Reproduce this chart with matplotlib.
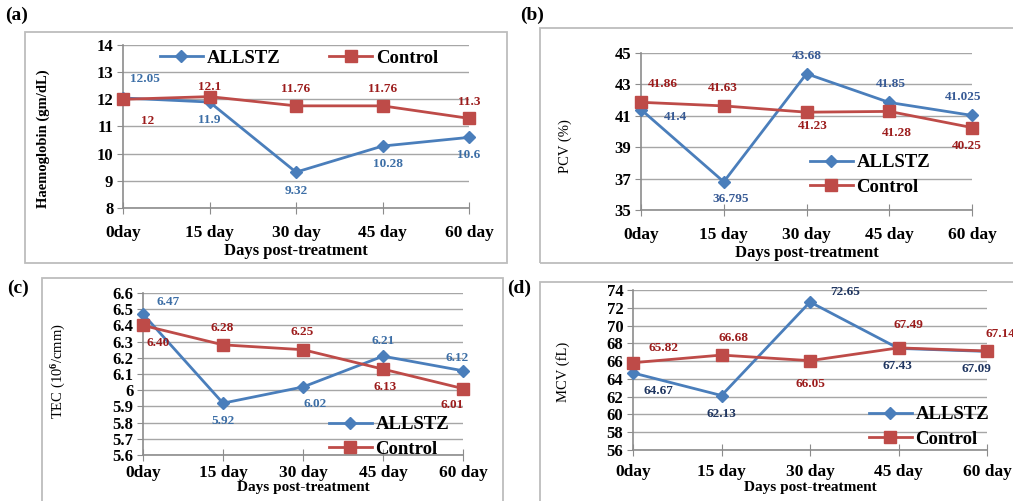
import matplotlib
matplotlib.use('Agg')
import matplotlib.pyplot as plt
from matplotlib.patches import Rectangle

# ---- data ----
days = ['0day', '15 day', '30 day', '45 day', '60 day']

hb_allstz = [12.05, 11.9, 9.32, 10.28, 10.6]
hb_control = [12, 12.1, 11.76, 11.76, 11.3]

pcv_allstz = [41.4, 36.795, 43.68, 41.85, 41.025]
pcv_control = [41.86, 41.63, 41.23, 41.28, 40.25]

tec_allstz = [6.47, 5.92, 6.02, 6.21, 6.12]
tec_control = [6.40, 6.28, 6.25, 6.13, 6.01]
tec_control_text = ['6.40', '6.28', '6.25', '6.13', '6.01']

mcv_allstz = [64.67, 62.13, 72.65, 67.43, 67.09]
mcv_control = [65.82, 66.68, 66.05, 67.49, 67.14]

hb_ticks = [8, 9, 10, 11, 12, 13, 14]
pcv_ticks = [35, 37, 39, 41, 43, 45]
tec_ticks = [5.6, 5.7, 5.8, 5.9, 6.0, 6.1, 6.2, 6.3, 6.4, 6.5, 6.6]
tec_tick_labels = ['5.6', '5.7', '5.8', '5.9', '6', '6.1', '6.2', '6.3', '6.4', '6.5', '6.6']
mcv_ticks = [56, 58, 60, 62, 64, 66, 68, 70, 72, 74]

# ---- style ----
W, H = 1013, 501
SERIF = ['Liberation Serif', 'DejaVu Serif']
plt.rcParams['font.family'] = SERIF
plt.rcParams['font.weight'] = 'bold'
plt.rcParams['mathtext.fontset'] = 'custom'
plt.rcParams['mathtext.rm'] = 'Liberation Serif'
plt.rcParams['mathtext.it'] = 'Liberation Serif:italic'

BLUE = '#4A7EBB'
RED = '#BE4B48'
CTRL_TXT = '#9C1C1C'
GRID = '#a6a6a6'


def px_rect(l, r, t, b):
    return [l / W, 1 - b / H, (r - l) / W, (b - t) / H]


def chart_box(fig, l, r, t, b):
    fig.add_artist(Rectangle((l / W, 1 - b / H), (r - l) / W, (b - t) / H,
                             transform=fig.transFigure, fill=False,
                             ec='#bdbdbd', lw=1.3))


def panel(fig, rect, allstz, control, ticks, tick_labels, ylim, ylabel,
          ylab_x, ylab_y, a_off, c_off, a_color, c_text=None,
          ylab_weight='normal', leg_xy=None, leg_ncol=1,
          tick_pad=8, xlab_pad=2, xlab_size=12):
    l, r, t, b = rect
    ax = fig.add_axes(px_rect(l, r, t, b))
    x = list(range(len(days)))
    ax.plot(x, allstz, color=BLUE, lw=2.0, marker='D', ms=6, label='ALLSTZ',
            clip_on=False, zorder=3)
    ax.plot(x, control, color=RED, lw=2.0, marker='s', ms=8, label='Control',
            clip_on=False, zorder=3)
    ax.set_xlim(0, len(days) - 1)
    ax.set_ylim(*ylim)
    ax.set_yticks(ticks)
    ax.set_yticklabels(tick_labels)
    ax.set_xticks(x)
    ax.set_xticklabels(days)
    ax.yaxis.grid(True, color=GRID, lw=1)
    ax.set_axisbelow(True)
    for s in ['top', 'right']:
        ax.spines[s].set_visible(False)
    for s in ['left', 'bottom']:
        ax.spines[s].set_color('#8c8c8c')
        ax.spines[s].set_linewidth(1.2)
    ax.tick_params(axis='y', labelsize=12, length=4, color='#8c8c8c', pad=3)
    ax.tick_params(axis='x', labelsize=12.5, direction='inout', length=8,
                   color='#8c8c8c', pad=tick_pad)
    ax.set_xlabel('Days post-treatment', fontsize=xlab_size, fontweight='bold',
                  labelpad=xlab_pad)
    ax.set_ylabel(ylabel, fontsize=10.5, fontweight=ylab_weight)
    ax.yaxis.set_label_coords((ylab_x - l) / (r - l), ylab_y, transform=ax.transAxes)

    a_txt = [f'{v:g}' for v in allstz]
    c_txt = c_text if c_text else [f'{v:g}' for v in control]
    for i in x:
        ax.annotate(a_txt[i], (i, allstz[i]), xytext=(a_off[i][0], -a_off[i][1]),
                    textcoords='offset pixels', ha='center', va='center',
                    fontsize=9.5, fontweight='heavy', color=a_color,
                    annotation_clip=False)
        ax.annotate(c_txt[i], (i, control[i]), xytext=(c_off[i][0], -c_off[i][1]),
                    textcoords='offset pixels', ha='center', va='center',
                    fontsize=9.5, fontweight='heavy', color=CTRL_TXT,
                    annotation_clip=False)

    leg = ax.legend(loc='center', bbox_to_anchor=(leg_xy[0] / W, 1 - leg_xy[1] / H),
                    bbox_transform=fig.transFigure, ncol=leg_ncol, frameon=False,
                    fontsize=13.5, handlelength=2.3, handletextpad=0.2,
                    columnspacing=2.6, labelspacing=0.4, borderpad=0)
    for txt in leg.get_texts():
        txt.set_fontfamily(SERIF)
        txt.set_fontweight('bold')
    return ax


fig = plt.figure(figsize=(W / 100, H / 100), dpi=100)

# chart frames
chart_box(fig, 25, 507, 32, 263)
chart_box(fig, 540, 1020, 28, 263)
chart_box(fig, 42, 503, 278, 520)
chart_box(fig, 540, 1020, 282, 520)

# (a) haemoglobin
panel(fig, (123, 469, 45, 208), hb_allstz, hb_control, hb_ticks,
      [str(v) for v in hb_ticks], (8, 14), 'Haemoglobin (gm/dL)', 50, 0.423,
      [(22, -19), (0, 18), (0, 19), (5, 18), (0, 18)],
      [(25, 22), (0, -10), (0, -17), (0, -17), (0, -16)],
      '#3C6EA6', ylab_weight='bold', leg_xy=(299, 58), leg_ncol=2)

# (b) PCV
panel(fig, (641, 972, 53, 210), pcv_allstz, pcv_control, pcv_ticks,
      [str(v) for v in pcv_ticks], (35, 45), 'PCV (%)', 572, 0.408,
      [(34, 7), (7, 17), (0, -18), (2, -18), (-9, -18)],
      [(22, -18), (-1, -18), (6, 14), (8, 22), (-5, 18)],
      '#375A95', leg_xy=(870, 175))

# (c) TEC
panel(fig, (143, 463, 293, 455), tec_allstz, tec_control, tec_ticks,
      tec_tick_labels, (5.6, 6.6), r'TEC (10$^{6}$/cmm)', 68, 0.52,
      [(25, -12), (0, 18), (12, 17), (0, -15), (-6, -13)],
      [(15, 18), (-1, -17), (-1, -18), (2, 18), (-11, 16)],
      '#3C6EA6', c_text=tec_control_text, leg_xy=(389, 437),
      tick_pad=3, xlab_pad=0, xlab_size=11)

# (d) MCV
panel(fig, (633, 987, 290, 450), mcv_allstz, mcv_control, mcv_ticks,
      [str(v) for v in mcv_ticks], (56, 74), 'MCV (fL)', 570, 0.49,
      [(25, 18), (0, 18), (35, -10), (-1, 18), (-11, 18)],
      [(30, -15), (12, -17), (0, 23), (10, -23), (13, -17)],
      '#1F3560', leg_xy=(929, 427), tick_pad=6, xlab_pad=1, xlab_size=11)

for lab, xp, yp in [('(a)', 5, 15), ('(b)', 520, 15), ('(c)', 7, 288), ('(d)', 507, 288)]:
    fig.text(xp / W, 1 - yp / H, lab, fontsize=14, fontweight='bold',
             ha='left', va='center')

fig.savefig('out.png', dpi=100)
